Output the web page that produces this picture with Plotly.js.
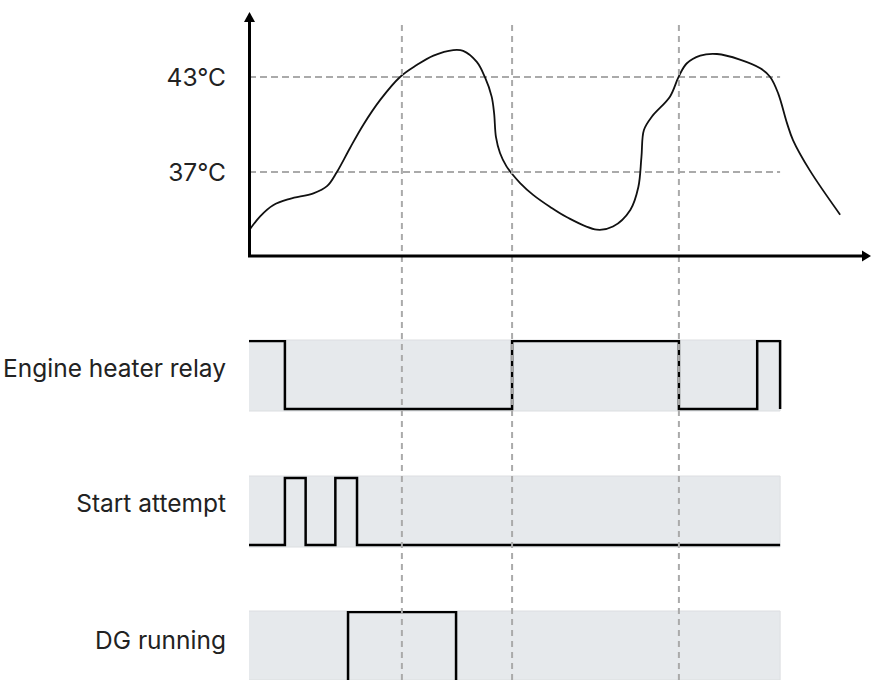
<!DOCTYPE html>
<html><head><meta charset="utf-8">
<script src="https://cdn.plot.ly/plotly-3.0.1.min.js"></script>
<style>html,body{margin:0;padding:0;background:#fff}</style>
</head><body><div id="chart" style="width:871px;height:680px"></div>
<script>
// ---- data ----
const time = [0, 1.8, 3.9, 6.6, 10.4, 12.6, 14.2, 16.3, 18.5, 21.2, 24.4, 27.1, 29.8, 33.0, 34.6, 36.8, 38.1, 39.2, 39.6, 39.9, 40.55, 41.6, 42.45, 43.8, 45.9, 48.6, 51.3, 56.2, 58.8, 61.6, 62.9, 63.4, 63.8, 65.1, 68.0, 69.4, 70.7, 72.9, 75.6, 79.3, 82.6, 84.2, 85.5, 86.9, 87.9, 90.6, 95.5];
const temperature = [33.3, 34.2, 34.9, 35.3, 35.65, 36.1, 37.0, 38.5, 40.0, 41.55, 43.0, 43.75, 44.35, 44.7, 44.65, 43.95, 43.0, 41.76, 40.7, 39.2, 38.2, 37.35, 36.9, 36.3, 35.55, 34.8, 34.15, 33.35, 33.55, 34.6, 36.05, 37.95, 39.65, 40.5, 41.75, 43.0, 43.85, 44.35, 44.45, 44.1, 43.55, 43.0, 41.95, 40.1, 39.0, 37.1, 34.3];
const thresholdTemps = [37, 43];
const thresholdLabels = ['37°C', '43°C'];
const eventTimes = [24.7, 42.5, 69.45];
const timeEnd = 85.8;
const rowLabels = ['Engine heater relay', 'Start attempt', 'DG running'];
const relayTime = [0, 5.8, 42.5, 69.45, 82.1, 85.8];
const relayState = [1, 0, 1, 0, 1, 0];
const startTime = [0, 5.8, 9.15, 13.95, 17.45, 85.8];
const startState = [0, 1, 0, 1, 0, 0];
const dgTime = [0, 16.0, 33.45, 85.8];
const dgState = [0, 1, 0, 0];

// ---- layout helpers (pixel -> paper) ----
const W = 871, H = 680;
const PX = x => x / W;
const PY = y => 1 - y / H;
const FONT = 'Inter, "Noto Sans", sans-serif';
const TXT = '#222222';
const FS = 24.5;

const sig = (xs, ys, ya) => ({x: xs, y: ys, xaxis: 'x', yaxis: ya, mode: 'lines',
  line: {shape: 'hv', color: '#000', width: 2.5}, hoverinfo: 'skip', showlegend: false});

const traces = [
  {x: time, y: temperature, xaxis: 'x', yaxis: 'y', mode: 'lines',
   line: {shape: 'spline', smoothing: 1, color: '#111', width: 1.8}, showlegend: false},
  sig(relayTime, relayState, 'y2'),
  sig(startTime, startState, 'y3'),
  sig(dgTime, dgState, 'y4')
];

const shapes = [];
// gray bands
['y2', 'y3', 'y4'].forEach(a => shapes.push({type: 'rect', layer: 'below', xref: 'x', x0: -0.3, x1: timeEnd,
  yref: a + ' domain', y0: 0, y1: 1, fillcolor: '#e6e9ec', line: {color: '#dcdee1', width: 1}}));
// threshold dashed lines
thresholdTemps.forEach(v => shapes.push({type: 'line', layer: 'below', xref: 'x', x0: 0, x1: timeEnd,
  yref: 'y', y0: v, y1: v, line: {color: '#aaaaaa', width: 2, dash: '7px,4px'}}));
// event dashed lines
eventTimes.forEach(t => shapes.push({type: 'line', layer: 'above', xref: 'x', x0: t, x1: t,
  yref: 'paper', y0: 0, y1: PY(22), line: {color: '#aaaaaa', width: 2, dash: '6px,5px'}}));
// axis lines with arrows
shapes.push({type: 'line', xref: 'paper', yref: 'paper', x0: PX(249.5), x1: PX(249.5), y0: PY(257), y1: PY(20), line: {color: '#000', width: 3}});
shapes.push({type: 'line', xref: 'paper', yref: 'paper', x0: PX(248), x1: PX(864), y0: PY(256), y1: PY(256), line: {color: '#000', width: 3}});
shapes.push({type: 'path', xref: 'paper', yref: 'paper', fillcolor: '#000', line: {width: 0},
  path: `M${PX(249.5)},${PY(12)} L${PX(244)},${PY(22)} L${PX(255)},${PY(22)} Z`});
shapes.push({type: 'path', xref: 'paper', yref: 'paper', fillcolor: '#000', line: {width: 0},
  path: `M${PX(871)},${PY(256)} L${PX(862)},${PY(250.5)} L${PX(862)},${PY(261.5)} Z`});

const rowAxis = (dom, rng, tv, label) => ({domain: dom, range: rng, anchor: 'x', fixedrange: true,
  showgrid: false, zeroline: false, showline: false, ticks: '', tickvals: [tv], ticktext: [label],
  ticklabelstandoff: 22, tickfont: {family: FONT, size: FS, color: TXT}});

const layout = {
  width: W, height: H, margin: {l: 0, r: 0, t: 0, b: 0}, paper_bgcolor: '#fff', plot_bgcolor: 'rgba(0,0,0,0)',
  showlegend: false, hovermode: false,
  xaxis: {domain: [PX(249), 1], range: [0, (871 - 249) / 6.19], visible: false, fixedrange: true, anchor: 'y'},
  yaxis: {domain: [PY(256), PY(13)], range: [31.69, 47.04], anchor: 'x', showgrid: false, zeroline: false, showline: false,
    ticks: '', tickvals: thresholdTemps, ticktext: thresholdLabels, ticklabelstandoff: 22,
    tickfont: {family: FONT, size: FS, color: TXT}, fixedrange: true},
  yaxis2: rowAxis([PY(411), PY(340)], [-0.029, 1.015], 0.593, rowLabels[0]),
  yaxis3: rowAxis([PY(547), PY(476)], [-0.03, 1.03], 0.622, rowLabels[1]),
  yaxis4: rowAxis([0, PY(611)], [0.03, 1.0147], 0.592, rowLabels[2]),
  shapes: shapes
};
Plotly.newPlot('chart', traces, layout, {displayModeBar: false, staticPlot: true});
</script></body></html>
